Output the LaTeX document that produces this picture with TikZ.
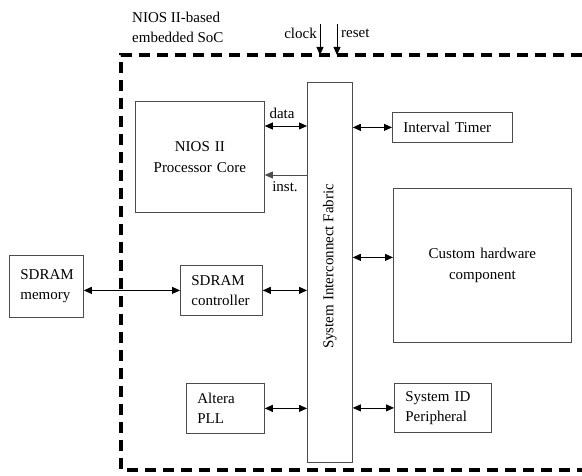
\documentclass[tikz,border=0pt]{standalone}
\usepackage{fontspec}
\setmainfont{Liberation Serif}
\usetikzlibrary{arrows.meta}

\begin{document}
\begin{tikzpicture}[>={Triangle[length=8pt,width=7pt]},x=1pt,y=-1pt,
	font=\fontsize{15}{20.5}\selectfont,
	blk/.style={draw=black!70,line width=0.8pt,anchor=north west,inner xsep=11pt,inner ysep=0pt,align=left},
	lbl/.style={inner sep=0pt,align=left},
	link/.style={<->,line width=0.8pt},
	frame/.style={line width=3.5pt,dash pattern=on 11pt off 7pt}]
					\useasboundingbox (0,0) rectangle (582,476);

					% SoC border
					\coordinate (frameNW) at (121,55);
					\draw[frame] (582,55) -- (frameNW) -- (121,470) -- (582,470);
					\node (soc) [lbl,anchor=west] at (132,27.5) {NIOS II-based\\embedded SoC};

					% blocks
					\node (fabric) [blk,minimum width=45pt,minimum height=380pt] at (307,82) {};
					\node (fablbl) [lbl,rotate=90] at ([yshift=6pt]fabric.center) {System Interconnect Fabric};
					\node (core) [blk,align=center,text width=107pt,minimum height=111pt] at (135,101) {NIOS II\\Processor Core};
					\node (timer) [blk,text width=98pt,minimum height=30pt] at (392,112) {Interval Timer};
					\node (custom) [blk,align=center,text width=156pt,minimum height=154pt] at (393,188) {Custom hardware\\component};
					\node (mem) [blk,text width=52pt,minimum height=62pt] at (9,255) {SDRAM\\memory};
					\node (ctrl) [blk,text width=60pt,minimum height=50pt] at (180,265) {SDRAM\\controller};
					\node (pll) [blk,text width=56pt,minimum height=50pt] at (186,383) {Altera\\PLL};
					\node (sysid) [blk,text width=75pt,minimum height=49pt] at (394,383) {System ID\\Peripheral};

					% clock and reset
					\coordinate (clk) at (320,24);
					\coordinate (rst) at (337,24);
					\draw[->,line width=0.8pt] (clk) -- (clk |- frameNW);
					\draw[->,line width=0.8pt] (rst) -- (rst |- frameNW);
					\node (clklbl) [lbl,anchor=east] at (317,33) {clock};
					\node (rstlbl) [lbl,anchor=west] at (341,33) {reset};

					% connections
					\path ([yshift=-25pt]core.north east) coordinate (dataL);
					\path ([yshift=-74pt]core.north east) coordinate (instL);
					\path ([yshift=8pt]custom.west) coordinate (cusR);
					\draw[link] (dataL) -- (dataL -| fabric.west);
					\node (datalbl) [lbl] at (282,113) {data};
					\draw[->,line width=0.8pt,draw=black!70] (instL -| fabric.west) -- (instL);
					\node (instlbl) [lbl] at (285,187) {inst.};
					\draw[link] (timer.west -| fabric.east) -- (timer.west);
					\draw[link] (cusR -| fabric.east) -- (cusR);
					\draw[link] (mem.east |- ctrl.west) -- (ctrl.west);
					\draw[link] (ctrl.east) -- (ctrl.east -| fabric.west);
					\draw[link] (pll.east) -- (pll.east -| fabric.west);
					\draw[link] (sysid.west -| fabric.east) -- (sysid.west);
				\end{tikzpicture}
\end{document}
